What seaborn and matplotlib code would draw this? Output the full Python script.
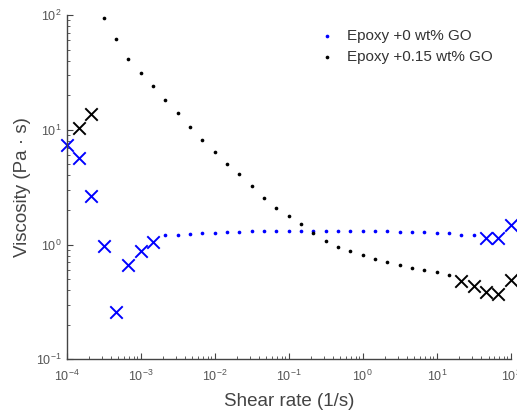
import numpy as np
import pandas as pd
import matplotlib
matplotlib.use("Agg")
import matplotlib.pyplot as plt
import seaborn as sns

sns.set_style("ticks")
plt.rcParams['font.family'] = ['Liberation Sans', 'DejaVu Sans']
plt.rcParams['mathtext.default'] = 'regular'

# ---- data ----
# Epoxy + 0 wt% GO
blue_x_rate = [1.0e-4, 1.47e-4, 2.15e-4, 3.16e-4, 4.64e-4, 6.81e-4, 1.0e-3, 1.47e-3,
               46.4, 68.1, 100.0]
blue_x_visc = [7.3, 5.7, 2.65, 0.97, 0.256, 0.66, 0.88, 1.05,
               1.13, 1.15, 1.47]
blue_dot_rate = [2.15e-3, 3.16e-3, 4.64e-3, 6.81e-3, 1.0e-2, 1.47e-2, 2.15e-2, 3.16e-2,
                 4.64e-2, 6.81e-2, 0.1, 0.147, 0.215, 0.316, 0.464, 0.681, 1.0, 1.47,
                 2.15, 3.16, 4.64, 6.81, 10.0, 14.7, 21.5, 31.6]
blue_dot_visc = [1.20, 1.22, 1.24, 1.26, 1.27, 1.28, 1.29, 1.30,
                 1.31, 1.31, 1.32, 1.32, 1.31, 1.31, 1.30, 1.30, 1.30, 1.30,
                 1.30, 1.29, 1.29, 1.28, 1.27, 1.25, 1.22, 1.20]

# Epoxy + 0.15 wt% GO
black_x_rate = [1.47e-4, 2.15e-4, 21.5, 31.6, 46.4, 68.1, 100.0]
black_x_visc = [10.4, 13.8, 0.479, 0.433, 0.382, 0.367, 0.489]
black_dot_rate = [3.16e-4, 4.64e-4, 6.81e-4, 1.0e-3, 1.47e-3, 2.15e-3, 3.16e-3, 4.64e-3,
                  6.81e-3, 1.0e-2, 1.47e-2, 2.15e-2, 3.16e-2, 4.64e-2, 6.81e-2, 0.1,
                  0.147, 0.215, 0.316, 0.464, 0.681, 1.0, 1.47, 2.15, 3.16, 4.64,
                  6.81, 10.0, 14.7]
black_dot_visc = [95.0, 62.0, 41.7, 31.2, 24.3, 18.3, 14.0, 10.5,
                  8.2, 6.41, 5.08, 4.15, 3.24, 2.55, 2.06, 1.77,
                  1.52, 1.27, 1.07, 0.953, 0.875, 0.818, 0.75, 0.70, 0.664, 0.625,
                  0.597, 0.574, 0.537]

labels = ["Epoxy +0 wt% GO", "Epoxy +0.15 wt% GO"]
BLUE = "#0000ff"
BLACK = "#000000"

fig = plt.figure(figsize=(5.17, 4.12), dpi=100)
ax = fig.add_axes([0.129, 0.128, 0.859, 0.8356])

df_bd = pd.DataFrame({"rate": blue_dot_rate, "visc": blue_dot_visc})
df_kd = pd.DataFrame({"rate": black_dot_rate, "visc": black_dot_visc})
df_bx = pd.DataFrame({"rate": blue_x_rate, "visc": blue_x_visc})
df_kx = pd.DataFrame({"rate": black_x_rate, "visc": black_x_visc})

sns.scatterplot(data=df_bd, x="rate", y="visc", ax=ax, color=BLUE, marker="o",
                s=7, linewidth=0, label=labels[0], clip_on=False)
sns.scatterplot(data=df_kd, x="rate", y="visc", ax=ax, color=BLACK, marker="o",
                s=7, linewidth=0, label=labels[1], clip_on=False)
sns.scatterplot(data=df_bx, x="rate", y="visc", ax=ax, color=BLUE, marker="x",
                s=80, linewidth=1.4, legend=False, clip_on=False)
sns.scatterplot(data=df_kx, x="rate", y="visc", ax=ax, color=BLACK, marker="x",
                s=80, linewidth=1.4, legend=False, clip_on=False)

ax.set_xscale("log")
ax.set_yscale("log")
ax.set_xlim(1e-4, 1e2)
ax.set_ylim(1e-1, 1e2)

grey = "#444444"
for side in ["top", "right"]:
    ax.spines[side].set_visible(False)
for side in ["left", "bottom"]:
    ax.spines[side].set_color(grey)
    ax.spines[side].set_linewidth(1.0)
ax.tick_params(which="both", direction="in", colors=grey, labelcolor="#555555",
               labelsize=9)
ax.tick_params(which="major", length=4)
ax.tick_params(which="minor", length=2)
ax.tick_params(axis="x", which="major", pad=7)
ax.set_xticks([1e-4, 1e-3, 1e-2, 1e-1, 1e0, 1e1, 1e2])
ax.set_yticks([1e-1, 1e0, 1e1, 1e2])

ax.set_xlabel("Shear rate (1/s)", fontsize=13.5, color="#444444", labelpad=6)
ax.set_ylabel("Viscosity (Pa · s)", fontsize=13.5, color="#444444", labelpad=4)

leg = ax.legend(loc="upper right", bbox_to_anchor=(0.99, 1.0), frameon=False,
                fontsize=11, handletextpad=0.8, markerscale=1.0,
                labelspacing=0.5, handlelength=1.0)
for t in leg.get_texts():
    t.set_color("#333333")

fig.savefig("out.png", dpi=100)
